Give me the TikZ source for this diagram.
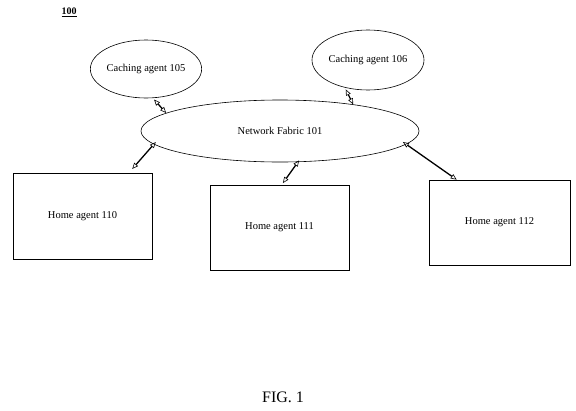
\documentclass[tikz,border=0pt]{standalone}
\usepackage{fontspec}
\setmainfont{Liberation Serif}
\usetikzlibrary{shapes.geometric,arrows.meta}

\begin{document}
\begin{tikzpicture}[x=1pt, y=-1pt,
		bubble/.style={draw, ellipse, line width=.6pt, inner sep=0pt, font=\fontsize{10.5}{12}\selectfont},
		homebox/.style={draw, rectangle, line width=.6pt, inner sep=0pt, font=\fontsize{10.5}{12}\selectfont},
		link/.style={line width=1.3pt, {Triangle[open, length=6pt, width=5pt, line width=.6pt]}-{Triangle[open, length=6pt, width=5pt, line width=.6pt]}}]
	\useasboundingbox (0, 0) rectangle (576, 410);

	\node[font=\bfseries\fontsize{10}{11}\selectfont] (fignum) at (69, 12){\underline{100}};

		% caching agents
		\node[bubble, minimum width=109pt, minimum height=58pt] (cache105) at (146, 69){Caching agent 105};
		\node[bubble, minimum width=112pt, minimum height=60pt] (cache106) at (368, 60){Caching agent 106};

		% fabric
		\node[bubble, minimum width=278pt, minimum height=62pt] (fabric) at (280, 131){Network Fabric 101};

		% home agents
		\node[homebox, minimum width=139pt, minimum height=86pt] (home110) at (82.5, 216){Home agent 110};
		\node[homebox, minimum width=139pt, minimum height=85pt] (home111) at (279.5, 227.5){Home agent 111};
		\node[homebox, minimum width=141pt, minimum height=85pt] (home112) at (499.5, 222.5){Home agent 112};

	\draw[link, shorten <=2pt](cache105.-77) to (fabric.171);
	\draw[link, shorten <=2pt](cache106.-130) to (fabric.20);
	\draw[link, shorten <=-3pt, shorten >=5pt](fabric.-174) to (home110.43);
	\draw[link, shorten <=-2pt, shorten >=2pt](fabric.-60) to (home111.87);
	\draw[link, shorten <=-4pt](fabric.-6) to (home112.135.7);

	\node[font=\fontsize{16}{18}\selectfont] (figcaption) at (283, 397){FIG.~1};
\end{tikzpicture}
\end{document}
